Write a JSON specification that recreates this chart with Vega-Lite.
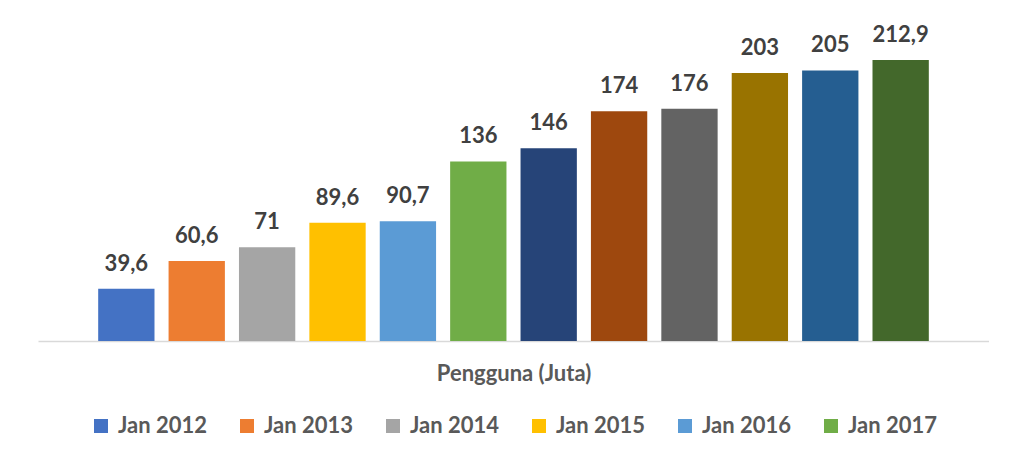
{
  "$schema": "https://vega.github.io/schema/vega-lite/v6.json",
  "width": 951,
  "height": 330,
  "padding": {"left": 38, "top": 11, "right": 0, "bottom": 0},
  "background": "white",
  "config": {
    "view": {"stroke": null},
    "font": "Lato",
    "legend": {"layout": {"bottom": {"anchor": "middle"}}}
  },
  "data": {
    "values": [
      {"n": 1, "nilai": 39.6, "teks": "39,6"},
      {"n": 2, "nilai": 60.6, "teks": "60,6"},
      {"n": 3, "nilai": 71, "teks": "71"},
      {"n": 4, "nilai": 89.6, "teks": "89,6"},
      {"n": 5, "nilai": 90.7, "teks": "90,7"},
      {"n": 6, "nilai": 136, "teks": "136"},
      {"n": 7, "nilai": 146, "teks": "146"},
      {"n": 8, "nilai": 174, "teks": "174"},
      {"n": 9, "nilai": 176, "teks": "176"},
      {"n": 10, "nilai": 203, "teks": "203"},
      {"n": 11, "nilai": 205, "teks": "205"},
      {"n": 12, "nilai": 212.9, "teks": "212,9"}
    ]
  },
  "encoding": {
    "x": {
      "field": "n",
      "type": "ordinal",
      "scale": {"paddingInner": 0.2, "paddingOuter": 0.855},
      "axis": {
        "title": "Pengguna (Juta)",
        "labels": false,
        "ticks": false,
        "domainColor": "#d9d9d9",
        "domainWidth": 1.5,
        "titleFont": "Lato",
        "titleFontSize": 22,
        "titleFontWeight": "bold",
        "titleColor": "#595959",
        "titlePadding": 22
      }
    },
    "y": {
      "field": "nilai",
      "type": "quantitative",
      "scale": {"domain": [0, 250]},
      "axis": null
    }
  },
  "layer": [
    {
      "mark": {"type": "bar"},
      "encoding": {
        "color": {
          "field": "n",
          "type": "nominal",
          "scale": {
            "domain": [1, 2, 3, 4, 5, 6, 7, 8, 9, 10, 11, 12],
            "range": ["#4472C4", "#ED7D31", "#A5A5A5", "#FFC000", "#5B9BD5", "#70AD47", "#264478", "#9E480E", "#636363", "#997300", "#255E91", "#43682B"]
          },
          "legend": {
            "title": null,
            "orient": "bottom",
            "direction": "horizontal",
            "columns": 6,
            "values": [1, 2, 3, 4, 5, 6],
            "labelExpr": "'Jan ' + (2011 + datum.value)",
            "symbolType": "square",
            "symbolSize": 196,
            "symbolStrokeWidth": 0,
            "labelFont": "Lato",
            "labelFontSize": 22,
            "labelFontWeight": "bold",
            "labelColor": "#595959",
            "labelOffset": 6,
            "columnPadding": 28,
            "offset": 31,
            "labelLimit": 200
          }
        }
      }
    },
    {
      "mark": {"type": "text", "baseline": "bottom", "dy": -13, "font": "Lato", "fontSize": 22, "fontWeight": "bold", "color": "#404040"},
      "encoding": {"text": {"field": "teks"}}
    }
  ]
}
